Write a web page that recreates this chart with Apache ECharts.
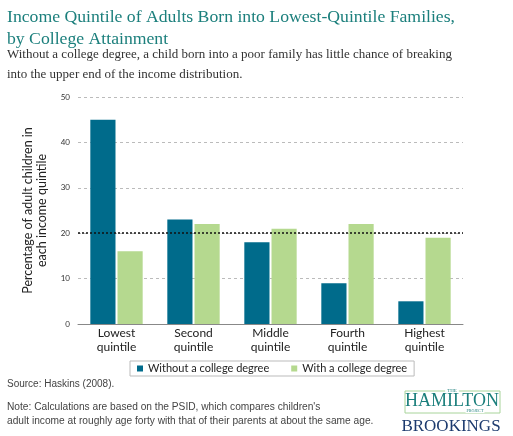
<!DOCTYPE html>
<html><head><meta charset="utf-8">
<script src="https://cdn.jsdelivr.net/npm/echarts@6/dist/echarts.min.js"></script>
<style>html,body{margin:0;padding:0;background:#fff}#c{width:513px;height:436px}</style>
</head><body><div id="c"></div>
<script>
const categories = ['Lowest\nquintile','Second\nquintile','Middle\nquintile','Fourth\nquintile','Highest\nquintile'];
const withoutDegree = [45, 23, 18, 9, 5];
const withDegree = [16, 22, 21, 22, 19];
const yTicks = [0, 10, 20, 30, 40, 50];
const referenceLine = 20;

const chart = echarts.init(document.getElementById('c'));
const serif = '"Liberation Serif", "DejaVu Serif", serif';
const sans = 'Lato, "Noto Sans", sans-serif';
chart.setOption({
  animation: false,
  backgroundColor: '#fff',
  grid: {left: 78, right: 50, top: 97, bottom: 112},
  legend: {
    left: 130, top: 361, itemWidth: 6, itemHeight: 6, itemGap: 22,
    padding: [2, 7, 2, 7],
    borderColor: '#bbb', borderWidth: 1,
    textStyle: {fontFamily: sans, fontSize: 11, color: '#222'},
    data: [{name:'Without a college degree', icon:'rect'}, {name:'With a college degree', icon:'rect'}]
  },
  xAxis: {
    type: 'category', data: categories,
    axisLine: {lineStyle: {color: '#888', width: 1}},
    axisTick: {show: false},
    axisLabel: {fontFamily: sans, fontSize: 12, color: '#222', lineHeight: 14, margin: 2}
  },
  yAxis: {
    type: 'value', min: yTicks[0], max: yTicks[yTicks.length-1], interval: 10,
    name: 'Percentage of adult children in\neach income quintile',
    nameLocation: 'middle', nameGap: 29, nameRotate: 90,
    nameTextStyle: {fontFamily: sans, fontSize: 12.5, color: '#222', lineHeight: 14},
    axisLine: {show: false}, axisTick: {show: false},
    axisLabel: {fontFamily: sans, fontSize: 8, color: '#333', margin: 8},
    splitLine: {lineStyle: {color: '#bbb', type: [3, 3], width: 1}}
  },
  series: [
    {name: 'Without a college degree', type: 'bar', data: withoutDegree,
     barGap: '8%', barCategoryGap: '32%',
     itemStyle: {color: '#006b8b'},
     markLine: {symbol: 'none', silent: true, label: {show: false},
       lineStyle: {color: '#111', type: [2, 2], width: 1.5},
       data: [{yAxis: referenceLine}]}},
    {name: 'With a college degree', type: 'bar', data: withDegree,
     itemStyle: {color: '#b5d98f'}}
  ],
  graphic: [
    {type: 'text', left: 7, top: 6, style: {text: 'Income Quintile of Adults Born into Lowest-Quintile Families,\nby College Attainment',
      font: '17.7px ' + serif, fill: '#1b7f7c', lineHeight: 22}},
    {type: 'text', left: 7, top: 45, style: {text: 'Without a college degree, a child born into a poor family has little chance of breaking\ninto the upper end of the income distribution.',
      font: '13px ' + serif, fill: '#333', lineHeight: 20}},
    {type: 'text', left: 7, top: 379, style: {text: 'Source: Haskins (2008).', font: '10px "Liberation Sans", Arial, sans-serif', fill: '#444'}},
    {type: 'text', left: 7, top: 400, style: {text: "Note: Calculations are based on the PSID, which compares children's\nadult income at roughly age forty with that of their parents at about the same age.",
      font: '10.2px "Liberation Sans", Arial, sans-serif', fill: '#444', lineHeight: 14}},
    {type: 'rect', shape: {x: 405, y: 391, width: 95, height: 22}, style: {fill: 'none', stroke: '#a8d49a', lineWidth: 1}},
    {type: 'text', x: 452, y: 388, style: {text: 'THE', font: '5px ' + serif, fill: '#1b7f7c', align: 'center', backgroundColor: '#fff', padding: [0, 2]}},
    {type: 'text', x: 452, y: 392, style: {text: 'HAMILTON', font: '18px ' + serif, fill: '#1b7f7c', align: 'center'}},
    {type: 'text', x: 475, y: 409, style: {text: 'PROJECT', font: '4px ' + serif, fill: '#1b7f7c', align: 'center', backgroundColor: '#fff', padding: [0, 1]}},
    {type: 'text', x: 451, y: 418, style: {text: 'BROOKINGS', font: '17px ' + serif, fill: '#1c3a6e', align: 'center'}}
  ]
});
</script></body></html>
